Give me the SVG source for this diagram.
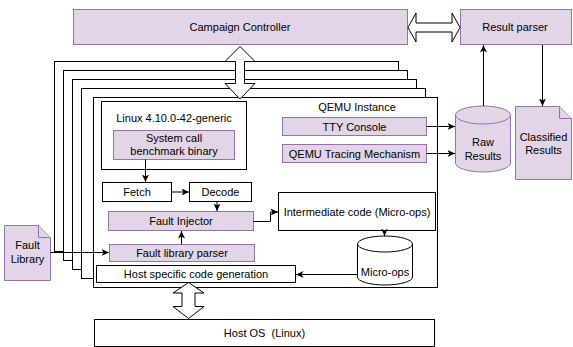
<svg xmlns="http://www.w3.org/2000/svg" width="573" height="347" viewBox="0 0 573 347">
<defs>
<style>
.p{fill:#e1d5e7;stroke:#9673a6;stroke-width:1}
.w{fill:#fff;stroke:#000;stroke-width:1}
.t{font-family:"Liberation Sans",Arial,sans-serif;font-size:11px;fill:#000;text-anchor:middle;dominant-baseline:central}
.c{fill:none;stroke:#000;stroke-width:1}
</style>
<marker id="a" viewBox="0 0 8 8" refX="7.5" refY="4" markerWidth="8" markerHeight="8" markerUnits="userSpaceOnUse" orient="auto">
<path d="M0,0.5 L7.5,4 L0,7.5 L2,4 Z" fill="#000"/>
</marker>
</defs>
<rect width="573" height="347" fill="#fff"/>
<g id="frames">
<rect class="w" x="54.5" y="61.5" width="344" height="190"/>
<rect class="w" x="63.5" y="70.5" width="344" height="190"/>
<rect class="w" x="72.5" y="79.5" width="344" height="190"/>
<rect class="w" x="81.5" y="88.5" width="344" height="190"/>
</g>
<g id="qemu">
<rect class="w" x="93.5" y="97.5" width="344" height="190"/>
<text class="t" x="357" y="107">QEMU Instance</text>
</g>
<g id="campaign">
<rect class="p" x="73.5" y="9.5" width="334" height="35"/>
<text class="t" x="240" y="27">Campaign Controller</text>
</g>
<g id="resultparser">
<rect class="p" x="460.5" y="9.5" width="111" height="35"/>
<text class="t" x="515" y="27">Result parser</text>
</g>
<g id="linux">
<rect class="w" x="101.5" y="101.5" width="145" height="68"/>
<text class="t" x="174" y="118">Linux 4.10.0-42-generic</text>
</g>
<g id="syscall">
<rect class="p" x="113.5" y="130.5" width="121" height="29"/>
<text class="t" x="174" y="137.5">System call</text>
<text class="t" x="174" y="151">benchmark binary</text>
</g>
<g id="tty">
<rect class="p" x="282.5" y="117.5" width="144" height="18"/>
<text class="t" x="354.5" y="127">TTY Console</text>
</g>
<g id="tracing">
<rect class="p" x="282.5" y="144.5" width="144" height="18"/>
<text class="t" x="354.5" y="154">QEMU Tracing Mechanism</text>
</g>
<g id="raw">
<path class="p" d="M455.5,115 A27.5,9 0 0 1 510.5,115 V163 A27.5,9 0 0 1 455.5,163 Z"/>
<path class="p" d="M455.5,115 A27.5,9 0 0 0 510.5,115" fill="none"/>
<text class="t" x="483" y="142">Raw</text>
<text class="t" x="483" y="155.5">Results</text>
</g>
<g id="classified">
<path class="p" d="M515.5,106.5 H559.5 L571.5,118.5 V179.5 H515.5 Z"/>
<path class="p" d="M559.5,106.5 V118.5 H571.5" fill="none"/>
<text class="t" x="543.5" y="136.5">Classified</text>
<text class="t" x="543.5" y="150">Results</text>
</g>
<g id="faultlib">
<path class="p" d="M4.5,225.5 H38.5 L50.5,237.5 V280.5 H4.5 Z"/>
<path class="p" d="M38.5,225.5 V237.5 H50.5" fill="none"/>
<text class="t" x="27.5" y="245">Fault</text>
<text class="t" x="27.5" y="259">Library</text>
</g>
<g id="fetch">
<rect class="w" x="102.5" y="182.5" width="69" height="19"/>
<text class="t" x="137" y="192">Fetch</text>
</g>
<g id="decode">
<rect class="w" x="189.5" y="182.5" width="62" height="19"/>
<text class="t" x="220.5" y="192">Decode</text>
</g>
<g id="injector">
<rect class="p" x="108.5" y="211.5" width="145" height="19"/>
<text class="t" x="181" y="221">Fault Injector</text>
</g>
<g id="parser">
<rect class="p" x="109.5" y="244.5" width="145" height="17"/>
<text class="t" x="182" y="253">Fault library parser</text>
</g>
<g id="hostgen">
<rect class="w" x="96.5" y="265.5" width="199" height="17"/>
<text class="t" x="196" y="274">Host specific code generation</text>
</g>
<g id="intermediate">
<rect class="w" x="278.5" y="192.5" width="157" height="38"/>
<text class="t" x="357" y="211.5">Intermediate code (Micro-ops)</text>
</g>
<g id="microops">
<path class="w" d="M357.5,244 A27.5,8 0 0 1 412.5,244 V277 A27.5,8 0 0 1 357.5,277 Z"/>
<path class="c" d="M357.5,244 A27.5,8 0 0 0 412.5,244"/>
<text class="t" x="385" y="272">Micro-ops</text>
</g>
<g id="hostos">
<rect class="w" x="94.5" y="319.5" width="340" height="27"/>
<text class="t" x="264.5" y="333" xml:space="preserve">Host OS  (Linux)</text>
</g>
<g id="connectors">
<path class="w" d="M240,46.5 L255,61.5 H244.5 V83.5 H255 L240,99 L225,83.5 H235.5 V61.5 H225 Z"/>
<path class="w" d="M408,27.5 L416,13 V23 H452 V13 L460,27.5 L452,42 V32 H416 V42 Z"/>
<path class="w" d="M188.5,282.5 L204,293 H195 V306.5 H204 L188.5,318.5 L173,306.5 H182 V293 H173 Z"/>
<path class="c" d="M145.5,159.5 V182" marker-end="url(#a)"/>
<path class="c" d="M171.5,192 H189" marker-end="url(#a)"/>
<path class="c" d="M217,201.5 V211" marker-end="url(#a)"/>
<path class="c" d="M181.5,244.5 V231" marker-end="url(#a)"/>
<path class="c" d="M50.5,252.5 H109" marker-end="url(#a)"/>
<path class="c" d="M253.5,221.5 H270.5 V212 H278" marker-end="url(#a)"/>
<path class="c" d="M384.5,230.5 V236" marker-end="url(#a)"/>
<path class="c" d="M357.5,274.5 H296" marker-end="url(#a)"/>
<path class="c" d="M426.5,126.5 H455" marker-end="url(#a)"/>
<path class="c" d="M426.5,153.5 H455" marker-end="url(#a)"/>
<path class="c" d="M483.5,106 V45" marker-end="url(#a)"/>
<path class="c" d="M542.5,45 V106" marker-end="url(#a)"/>
</g>
</svg>
